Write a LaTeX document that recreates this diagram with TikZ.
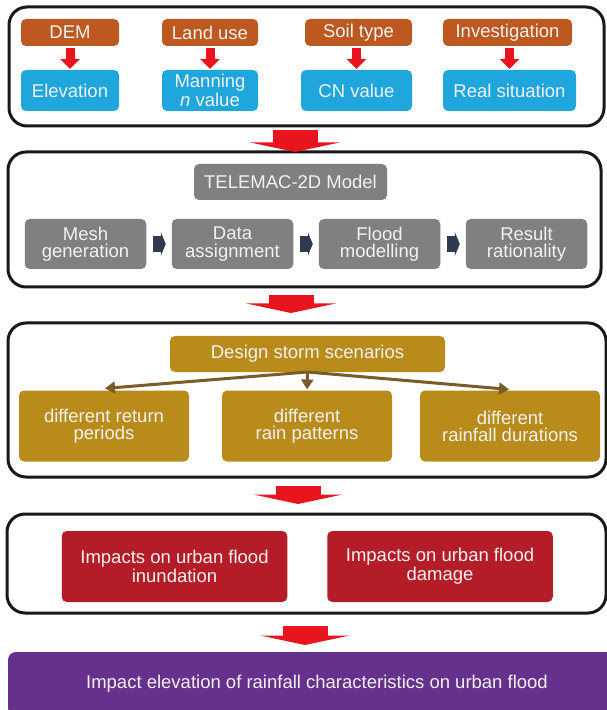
\documentclass[tikz,border=0pt]{standalone}
\usepackage{fontspec}
\setmainfont{Liberation Sans}
\usetikzlibrary{positioning, arrows.meta}

\definecolor{srcorange}{RGB}{189,89,32}
\definecolor{valblue}{RGB}{31,166,221}
\definecolor{modgray}{RGB}{128,128,128}
\definecolor{stepnavy}{RGB}{46,58,78}
\definecolor{stormgold}{RGB}{185,139,26}
\definecolor{stormbrown}{RGB}{122,92,42}
\definecolor{impactred}{RGB}{180,29,39}
\definecolor{finalpurple}{RGB}{101,49,140}
\definecolor{flowred}{RGB}{232,20,30}

\begin{document}
\begin{tikzpicture}[x=0.5pt,y=-0.5pt,on grid,
    font=\fontsize{9.25}{8.6}\selectfont,
    box/.style={rounded corners=2.5pt,text=white!95!black,align=center,inner sep=0pt,outer sep=0pt},
    frame/.style={draw=black!90,line width=1.5pt,rounded corners=9pt,inner sep=0pt,outer sep=0pt},
    src/.style={box,fill=srcorange,minimum height=13.5pt},
    val/.style={box,fill=valblue,minimum height=20.5pt},
    model/.style={box,fill=modgray},
    stepbox/.style={box,fill=modgray,minimum width=60.75pt,minimum height=25pt},
    storm/.style={box,fill=stormgold,minimum height=35.5pt},
    impact/.style={box,fill=impactred,minimum width=112.75pt,minimum height=35.5pt},
    smallflow/.style={color=flowred,line width=4.5pt,-{Triangle[width=9.5pt,length=5pt]},shorten <=1pt,shorten >=0.5pt},
    bigflow/.style={color=flowred,line width=22.5pt,-{Triangle[width=44.5pt,length=4.75pt]}},
    stepflow/.style={color=stepnavy,line width=8pt,-{Triangle[width=12pt,length=2.5pt]},shorten <=3.5pt,shorten >=3pt},
    stormflow/.style={color=stormbrown,line width=1.5pt,-{Triangle[width=6pt,length=5pt]},shorten >=0.5pt}]
    \fill[white] (0,0) rectangle (606,710);
    \useasboundingbox (0,0) rectangle (606,710);

    % section frames
    \node[frame,minimum width=297.5pt,minimum height=59.5pt] (sec1) at (306.5,66.5) {};
    \node[frame,minimum width=296.5pt,minimum height=67.5pt] (sec2) at (304.5,219.5) {};
    \node[frame,minimum width=299pt,minimum height=77pt] (sec3) at (307,400) {};
    \node[frame,minimum width=299.5pt,minimum height=49.5pt] (sec4) at (306.5,563.5) {};
    \node[box,fill=finalpurple,rounded corners=4pt,minimum width=309pt,minimum height=32pt] (final) at (317,684)
      {Impact elevation of rainfall characteristics on urban flood};

    % input data
    \node[src,minimum width=49pt] (dem) at (70,32.5) {DEM};
    \node[src,minimum width=48pt] (landuse) at (210,32.5) {Land use};
    \node[src,minimum width=53.5pt] (soil) at (358.5,32.5) {Soil type};
    \node[src,minimum width=64.5pt] (survey) at (507.5,32.5) {Investigation};
    \node[val,minimum width=49pt] (elev) [below=29pt of dem] {Elevation};
    \node[val,minimum width=48pt] (manning) [below=29pt of landuse] {Manning\\\textit{n} value};
    \node[val,minimum width=55.5pt] (cn) [below=29pt of soil,xshift=-1pt] {CN value};
    \node[val,minimum width=66.5pt] (real) [below=29pt of survey,xshift=1pt] {Real situation};
    \path[smallflow]
      (dem) edge (elev)
      (landuse) edge (manning)
      (cn.north |- soil.south) edge (cn.north)
      (real.north |- survey.south) edge (real.north);

    % model
    \node[model,minimum width=96.5pt,minimum height=18pt] (telemac) at (290.5,182) {TELEMAC-2D Model};
    \node[stepbox] (mesh) at (85.5,244) {Mesh\\generation};
    \node[stepbox] (data) [right=73.5pt of mesh] {Data\\assignment};
    \node[stepbox] (flood) [right=73.5pt of data] {Flood\\modelling};
    \node[stepbox] (result) [right=73.5pt of flood] {Result\\rationality};
    \path[stepflow]
      (mesh) edge (data)
      (data) edge (flood)
      (flood) edge (result);

    % scenarios
    \node[storm,minimum width=137.5pt,minimum height=18pt] (design) at (307.5,354) {Design storm scenarios};
    \node[storm,minimum width=85pt] (period) at (104,426) {different return\\periods};
    \node[storm,minimum width=85pt] (pattern) [right=101.5pt of period] {different\\rain patterns};
    \node[storm,minimum width=90pt] (duration) [right=101.5pt of pattern] {different\\rainfall durations};
    \path[stormflow]
      (design.south) edge ([yshift=1pt]period.north)
                     edge (pattern.north)
                     edge ([yshift=0.5pt]duration.north);

    % impacts
    \node[impact] (inund) at (174.5,566.5) {Impacts on urban flood\\inundation};
    \node[impact] (damage) [right=132.75pt of inund] {Impacts on urban flood\\damage};

    % links between sections
    \draw[bigflow] ([xshift=-5.75pt,yshift=-2pt]sec1.south) coordinate (l1)
      -- (l1 |- sec2.north);
    \draw[bigflow] ([xshift=-6.75pt,yshift=-4pt]sec2.south) coordinate (l2)
      -- ([yshift=5pt]l2 |- sec3.north);
    \draw[bigflow] ([xshift=-4.5pt,yshift=-4.5pt]sec3.south) coordinate (l3)
      -- ([yshift=5pt]l3 |- sec4.north);
    \draw[bigflow] ([xshift=-0.75pt,yshift=-6.5pt]sec4.south) coordinate (l4)
      -- ([yshift=3.5pt]l4 |- final.north);
\end{tikzpicture}
\end{document}
